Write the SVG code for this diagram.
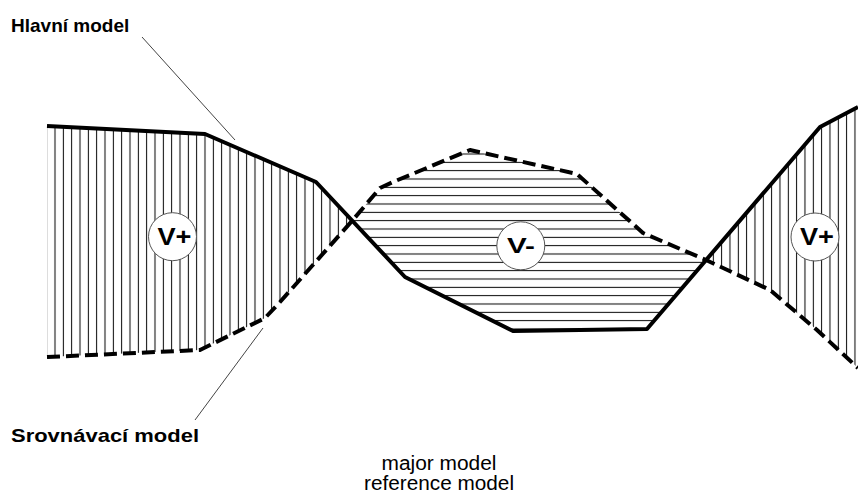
<svg xmlns="http://www.w3.org/2000/svg" width="858" height="495" viewBox="0 0 858 495">
<style>
.solid{fill:none;stroke:#000;stroke-width:4;stroke-linejoin:round}
.dashed{fill:none;stroke:#000;stroke-width:4;stroke-dasharray:13 6;stroke-linejoin:round}
.leader{fill:none;stroke:#444;stroke-width:1}
.badge{fill:#fff;stroke:#555;stroke-width:1}
.vt{font-family:"Liberation Sans",Arial,sans-serif;font-weight:bold;fill:#000;text-anchor:middle}
.lbl{font-family:"Liberation Sans",Arial,sans-serif;font-weight:bold;font-size:19px;fill:#000}
.cap{font-family:"Liberation Sans",Arial,sans-serif;font-size:20px;fill:#000;text-anchor:middle}
</style>
<defs>
<pattern id="vhatch" patternUnits="userSpaceOnUse" x="50.83" y="0" width="8.333" height="20">
<line x1="4.167" y1="0" x2="4.167" y2="20" stroke="#000" stroke-width="1"/>
</pattern>
<pattern id="hhatch" patternUnits="userSpaceOnUse" x="0" y="149.83" width="20" height="8.333">
<line x1="0" y1="4.167" x2="20" y2="4.167" stroke="#000" stroke-width="1"/>
</pattern>
</defs>
<rect width="858" height="495" fill="#fff"/>
<g id="hatching">
<polygon fill="url(#vhatch)" points="47,126 205,134 316,182 352,221 280,302 265,318 200,350 47,357"/>
<polygon fill="url(#hhatch)" points="352,221 405,277 513,331 647,329 706,260 643,233 577,174 470,150 393,182 380,188"/>
<polygon fill="url(#vhatch)" points="706,260 820,127 858,107 858,368 817,330 770,290"/>
</g>
<g id="connectors">
<polyline id="hlavni-line" class="solid" points="47,126 205,134 316,182 405,277 513,331 647,329 820,127 858,107"/>
<polyline id="srovnavaci-line" class="dashed" points="47,357 200,350 265,318 280,302 352,221 380,188 393,182 470,150 577,174 643,233 706,260 770,290 817,330 858,368"/>
<line class="leader" x1="142" y1="37" x2="235" y2="140"/>
<line class="leader" x1="263" y1="328" x2="195" y2="420"/>
</g>
<g id="vplus-left">
<circle class="badge" cx="172.5" cy="236.7" r="24"/>
<text class="vt" x="174.5" y="244.5" font-size="23" textLength="34" lengthAdjust="spacingAndGlyphs">V+</text>
</g>
<g id="vminus">
<circle class="badge" cx="520.8" cy="245.8" r="24"/>
<text class="vt" x="521" y="253.3" font-size="22" textLength="28" lengthAdjust="spacingAndGlyphs">V-</text>
</g>
<g id="vplus-right">
<circle class="badge" cx="815" cy="237" r="24"/>
<text class="vt" x="817" y="245" font-size="23" textLength="34" lengthAdjust="spacingAndGlyphs">V+</text>
</g>
<g id="label-hlavni">
<text class="lbl" x="11" y="31.7">Hlavní model</text>
</g>
<g id="label-srovnavaci">
<text class="lbl" x="11" y="442" textLength="188" lengthAdjust="spacingAndGlyphs">Srovnávací model</text>
</g>
<g id="caption">
<text class="cap" x="439" y="470" textLength="115" lengthAdjust="spacingAndGlyphs">major model</text>
<text class="cap" x="439" y="490" textLength="150" lengthAdjust="spacingAndGlyphs">reference model</text>
</g>
</svg>
